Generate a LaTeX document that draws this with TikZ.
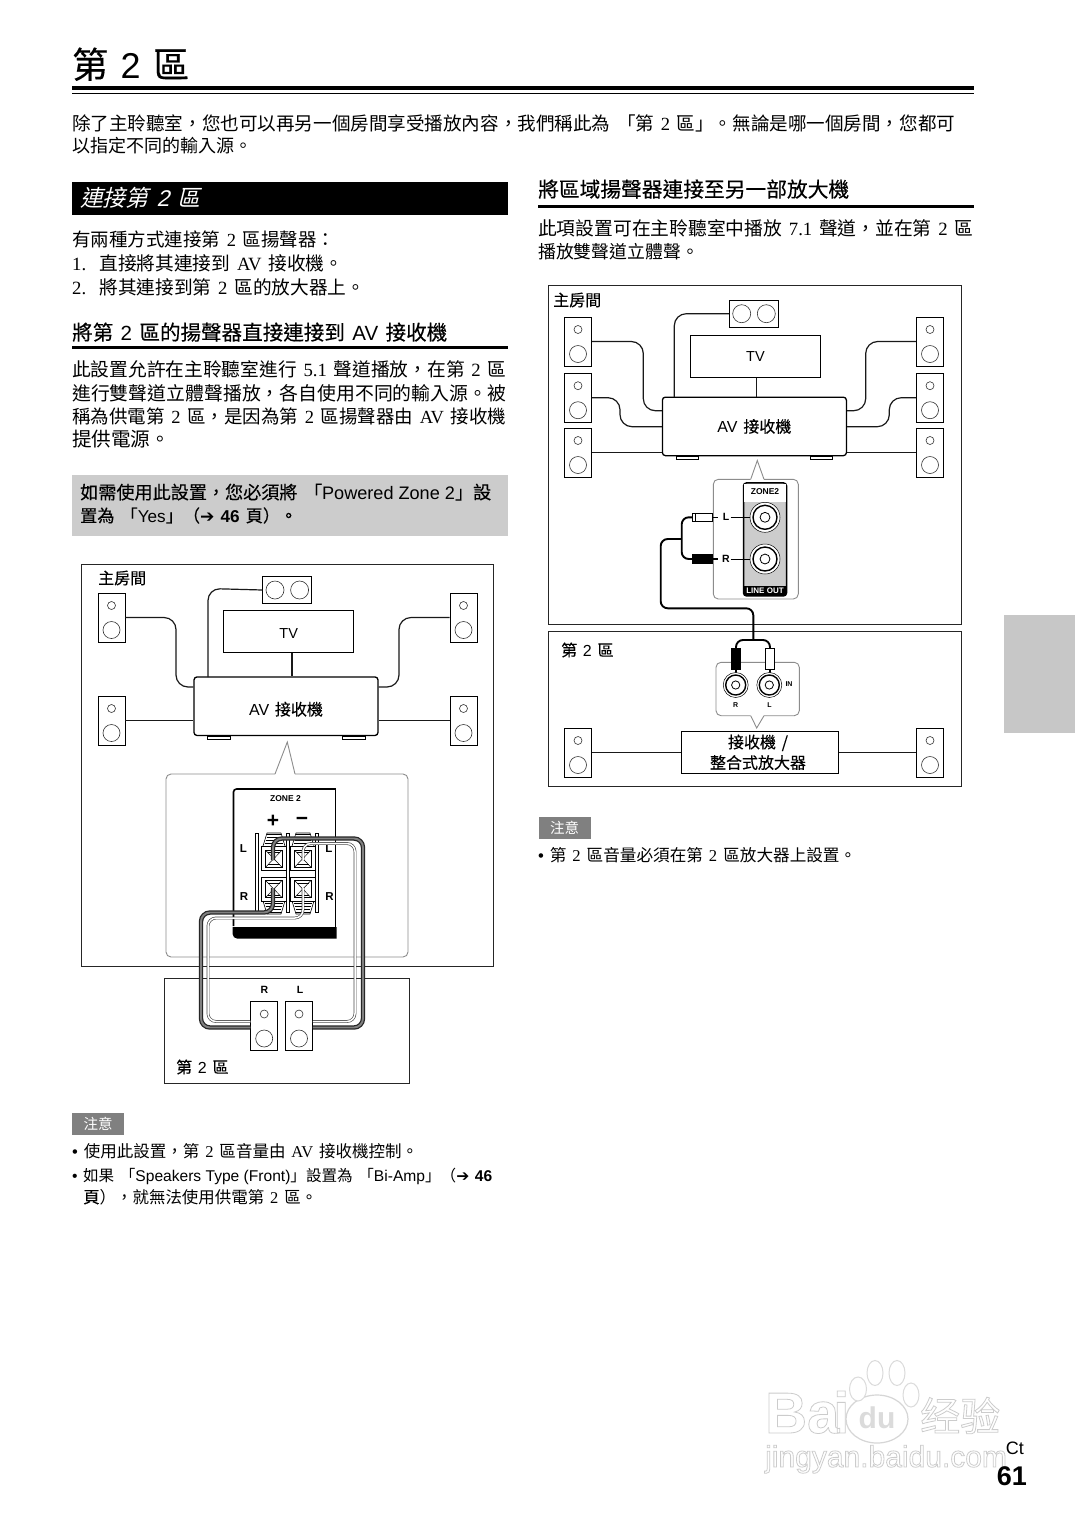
\documentclass[tikz,border=0pt]{standalone}
\usepackage{graphicx}
\usepackage{fontspec}
\setmainfont[WordSpace=1.6]{Noto Sans CJK TC}
\newfontfamily\medf[FakeBold=0.35,WordSpace=1.6]{Noto Sans CJK TC}
\newfontfamily\labf[FakeBold=0.2,WordSpace=1.6]{Noto Sans CJK TC}
\newfontfamily\itf[FakeSlant=0.25,WordSpace=1.6]{Noto Sans CJK TC}
\newfontfamily\scf{Noto Sans CJK SC}
\newfontfamily\serf{Liberation Serif}
\newfontfamily\sanf{Liberation Sans}
\newfontfamily\sanit[FakeSlant=0.25]{Liberation Sans}
\newfontfamily\arrf{DejaVu Sans}
\newcommand\lat[1]{{\serf #1}}
\newcommand\san[1]{{\sanf #1}}
\newcommand\arr{{\arrf ➔}}
\newcommand\blt{{\sanf •}\hspace{.35em}}
\newcommand\outl[1]{\special{pdf:code 1 Tr 0.80 G 0.8 w}#1\special{pdf:code 0 Tr 0 G 1 w}}
\newcounter{tn}
\newcommand\fitt[5][]{\stepcounter{tn}\node[anchor=base west,inner sep=0pt,#1] (t\arabic{tn}) at (#2,#3) {\resizebox{#4pt}{!}{#5}};}
\newcommand\spk[3]{\node[spkbox] (#1) at (#2,#3) {};
  \draw[thinl] (#1.center) ++(0,-12) circle (4);
  \draw[thinl] (#1.center) ++(0,12.5) circle (8.5);}
\newcommand\cspk[3]{\node[cspkbox] (#1) at (#2,#3) {};
  \draw[thinl] (#1.center) ++(-12.3,0) circle (9);
  \draw[thinl] (#1.center) ++(12.3,0) circle (9);}
\newcommand\wedgeT[3]{%
  \fill[white] (#1+2,#2) -- (#1+6,#2+#3*13) -- (#1+20,#2+#3*13) -- (#1+24,#2) -- cycle;
  \draw[line width=.6] (#1+2,#2) -- (#1+6,#2+#3*13) -- (#1+20,#2+#3*13) -- (#1+24,#2);
  \foreach \k in {2.5,5.5,8.5,11.5}{\draw[line width=1.5] (#1+3+.3*\k,#2+#3*\k) -- (#1+23-.3*\k,#2+#3*\k);}
}
\newcommand\termbox[2]{%
  \draw[line width=.8,fill=white] (#1,#2) rectangle (#1+25.5,#2+24);
  \draw[line width=.6,fill=white] (#1+4.5,#2+3.5) rectangle (#1+21,#2+20.5);
  \draw[line width=.5] (#1+4.5,#2+3.5) -- (#1+21,#2+20.5) (#1+21,#2+3.5) -- (#1+4.5,#2+20.5);
  \draw[line width=.5] (#1+7,#2+6) -- (#1+18.5,#2+6) (#1+7,#2+18) -- (#1+18.5,#2+18);
}
\newcommand\jack[3]{%
  \node[circle,draw=black,line width=.5,fill=white,minimum size=#3*2pt,inner sep=0pt] (#1) at (#2) {};
  \draw[line width=1.4] (#1.center) circle (#3*.8);
  \draw[line width=.8] (#1.center) circle (#3*.33);
}
\tikzset{
  frame/.style={draw=black!85,line width=.9pt},
  spkbox/.style={draw=black,line width=.8pt,minimum width=27pt,minimum height=49pt,inner sep=0pt,fill=white},
  cspkbox/.style={draw=black,line width=.8pt,minimum width=49pt,minimum height=27pt,inner sep=0pt,fill=white},
  tvbox/.style={draw=black,line width=.8pt,minimum width=130pt,minimum height=42pt,inner sep=0pt,fill=white,font=\sanf\fontsize{14.5}{15}\selectfont},
  avbox/.style={draw=black,line width=1.3pt,rounded corners=3pt,minimum width=184pt,minimum height=58.5pt,inner sep=0pt,fill=white,font=\labf\fontsize{16}{16}\selectfont},
  thinl/.style={draw=black!80,line width=.6pt},
  wire/.style={draw=black!90,line width=1.2pt,rounded corners=12pt},
  foot/.style={draw=black,line width=1pt,fill=white},
  callout/.style={draw=black!45,line width=.9pt,rounded corners=5pt},
  lab/.style={inner sep=0pt,font=\labf\fontsize{16}{16}\selectfont},
  blab/.style={inner sep=0pt,font=\sanf\bfseries\fontsize{10.5}{11}\selectfont},
  tinylab/.style={inner sep=0pt,font=\sanf\bfseries\fontsize{7}{8}\selectfont},
  darkwire/.style={draw=black!85,double=black!50,double distance=1.9pt,line width=1.25pt,rounded corners=9pt},
  lightwire/.style={draw=black!70,double=white,double distance=1.5pt,line width=.65pt,rounded corners=8pt},
  cable/.style={draw=black,line width=1.9pt,rounded corners=7pt},
  badge/.style={fill=black!50,text=white,minimum width=52pt,minimum height=22pt,inner sep=0pt,font=\fontsize{14.5}{15}\selectfont},
  wm/.style={inner sep=0pt,text=white},
}
\begin{document}
\begin{tikzpicture}[x=1pt,y=-1pt]
\useasboundingbox (0,0) rectangle (1075,1519);
\fill[white] (0,0) rectangle (1075,1519);

% title and rules
\fitt{72}{78}{117}{\medf\fontsize{36}{36}\selectfont 第\hspace{.35em}\san{2}\hspace{.35em}區}
\fill[black] (72,85.5) rectangle (974,89.5);
\fill[black] (72,92.5) rectangle (974,93.7);
\fitt{72}{130}{883}{除了主聆聽室，您也可以再另一個房間享受播放內容，我們稱此為 「第 \lat{2} 區」。無論是哪一個房間，您都可}
\fitt{72}{152.5}{180}{以指定不同的輸入源。}

% left column
\fill[black] (72,182) rectangle (508,215);
\fitt[text=white]{80}{206}{120}{\itf 連接第 {\sanit 2} 區}
\fitt{72}{246}{263}{有兩種方式連接第 \lat{2} 區揚聲器：}
\fitt{72}{270}{271}{\lat{1.}\hspace{.7em}直接將其連接到 \lat{AV} 接收機。}
\fitt{72}{294}{293}{\lat{2.}\hspace{.7em}將其連接到第 \lat{2} 區的放大器上。}
\fitt{72}{340}{375}{\medf 將第 \san{2} 區的揚聲器直接連接到 \san{AV} 接收機}
\fill[black] (72,346) rectangle (508,348.5);
\fitt{72}{376}{434}{此設置允許在主聆聽室進行 \lat{5.1} 聲道播放，在第 \lat{2} 區}
\fitt{72}{400}{434}{進行雙聲道立體聲播放，各自使用不同的輸入源。被}
\fitt{72}{423}{434}{稱為供電第 \lat{2} 區，是因為第 \lat{2} 區揚聲器由 \lat{AV} 接收機}
\fitt{72}{446}{98}{提供電源。}
\fill[black!20] (72,475) rectangle (508,536);
\fitt{80}{499}{411}{\labf 如需使用此設置，您必須將 「\san{Powered Zone 2}」設}
\fitt{80}{522}{217}{\labf 置為 「\san{Yes}」（\arr{} \san{\bfseries 46} 頁）。}

% left diagram
\node[frame,minimum width=412pt,minimum height=402pt,inner sep=0pt] (mainA) at (287.7,765) {};
\node[lab,anchor=west] (mainAl) at (98,578) {主房間};
\node[frame,minimum width=245pt,minimum height=105pt,inner sep=0pt] (zoneA) at (286.5,1030.5) {};
\node[lab,anchor=west] (zoneAl) at (176,1067) {第 \san{2} 區};
\spk{a1}{111.5}{617.5}
\spk{a2}{111.5}{720.5}
\spk{a3}{463.5}{617.5}
\spk{a4}{463.5}{720.5}
\cspk{ac}{287.3}{590}
\node[tvbox] (atv) at (288.7,631.5) {\raisebox{-2pt}[\height][\depth]{TV}};
\node[avbox] (aav) at (286,706.2) {\raisebox{-3pt}[\height][\depth]{\san{AV} 接收機}};
\draw[foot] (207,736.3) rectangle (230,739);
\draw[foot] (342,736.3) rectangle (365,739);
\draw[wire] (a1.east) -- (176,617.5) -- (176,687) -- (aav.west |- 0,687);
\draw[wire] (a2.east) -- (aav.west |- a2.east);
\draw[wire] (a3.west) -- (399,617.5) -- (399,687) -- (aav.east |- 0,687);
\draw[wire] (a4.west) -- (aav.east |- a4.west);
\draw[wire] (ac.west) -- (208,588.5) -- (208,677);
\draw[wire] (atv.south -| 292,0) -- (aav.north -| 292,0);
% callout
\draw[callout] (275,774) -- (166,774) -- (166,957) -- (408,957) -- (408,774) -- (295,774);
\draw[draw=black!45,line width=.9pt] (275,774) -- (287.3,742) -- (295,774);
% zone 2 panel
\draw[line width=1.6pt,rounded corners=3pt] (233.5,926) -- (233.5,789) -- (335,789);
\draw[line width=.9pt] (335.8,788) -- (335.8,927);
\fill[black] (232.7,927) -- (336.5,927) -- (336.5,938.5) -- (237,938.5) arc (90:180:4.3) -- cycle;
\node[inner sep=0pt,font=\sanf\bfseries\fontsize{8.5}{9}\selectfont] (z2) at (285.5,799) {ZONE 2};
\node[inner sep=0pt,font=\sanf\bfseries\fontsize{21}{21}\selectfont] (zp) at (273,821) {+};
\node[inner sep=0pt,font=\sanf\bfseries\fontsize{21}{21}\selectfont] (zm) at (302,821) {−};
\node[inner sep=0pt,font=\sanf\bfseries\fontsize{11.5}{12}\selectfont] (zl1) at (243.5,849) {L};
\node[inner sep=0pt,font=\sanf\bfseries\fontsize{11.5}{12}\selectfont] (zr1) at (244,897) {R};
\node[inner sep=0pt,font=\sanf\bfseries\fontsize{11.5}{12}\selectfont] (zl2) at (329,849) {L};
\node[inner sep=0pt,font=\sanf\bfseries\fontsize{11.5}{12}\selectfont] (zr2) at (329.5,897) {R};
\foreach \bx in {257,287.7,316.7}{\draw[line width=.7,fill=white] (\bx-1.3,833) rectangle (\bx+1.3,912);}
\wedgeT{261}{846}{-1}
\wedgeT{290}{846}{-1}
\wedgeT{261}{901}{1}
\wedgeT{290}{901}{1}
\termbox{261}{846.7}
\termbox{290}{846.7}
\termbox{261}{877}
\termbox{290}{877}
\spk{zr}{264.2}{1026}
\spk{zll}{299}{1026}
\node[blab] (zrl) at (264.5,990) {R};
\node[blab] (zll2) at (300,990) {L};
\coordinate (tlp) at (273,860);
\coordinate (tlm) at (303,860);
\coordinate (trp) at (273,888);
\coordinate (trm) at (303,888);
\draw[lightwire] (tlm) -- (303,843.5) -- (355,843.5) -- (355,1021.5) -- (zll.east |- 0,1021.5);
\draw[darkwire] (tlp) -- (273,838.5) -- (363,838.5) -- (363,1027.5) -- (zll.east |- 0,1027.5);
\draw[lightwire] (trm) -- (303,918) -- (208,918) -- (208,1021.5) -- (zr.west |- 0,1021.5);
\draw[darkwire] (trp) -- (273,912.5) -- (201,912.5) -- (201,1027.5) -- (zr.west |- 0,1027.5);

% left notes
\node[badge] (nA) at (98,1124) {注意};
\fitt{72}{1157}{346}{\blt 使用此設置，第 \lat{2} 區音量由 \lat{AV} 接收機控制。}
\fitt{72}{1181}{420}{\blt 如果 「\san{Speakers Type (Front)}」設置為 「\san{Bi-Amp}」（\arr{} \san{\bfseries 46}}
\fitt{83}{1203}{234}{\medf 頁\normalfont），就無法使用供電第 \lat{2} 區。}

% right column
\fitt{538}{197}{311}{\medf 將區域揚聲器連接至另一部放大機}
\fill[black] (538,205) rectangle (974,207.5);
\fitt{538}{235}{435}{此項設置可在主聆聽室中播放 \lat{7.1} 聲道，並在第 \lat{2} 區}
\fitt{538}{258.5}{161}{播放雙聲道立體聲。}

% right diagram upper
\node[frame,minimum width=413pt,minimum height=339pt,inner sep=0pt] (mainB) at (754.5,455) {};
\node[lab,anchor=west] (mainBl) at (553,300) {主房間};
\spk{b1}{578}{341.5}
\spk{b2}{578}{397.7}
\spk{b3}{578}{452.5}
\spk{b4}{930}{341.5}
\spk{b5}{930}{397.7}
\spk{b6}{930}{452.5}
\cspk{bc}{754}{313.7}
\node[tvbox] (btv) at (755.4,356.4) {TV};
\node[avbox] (bav) at (754.4,426.4) {\san{AV} 接收機};
\draw[foot] (676.5,456.2) rectangle (698,459);
\draw[foot] (810.5,456.2) rectangle (832.5,459);
\draw[wire] (b1.east) -- (643.3,341.5) -- (643.3,410.7) -- (bav.west |- 0,410.7);
\draw[wire] (b2.east) -- (620,397.7) -- (620,426.7) -- (bav.west |- 0,426.7);
\draw[wire] (b3.east) -- (bav.west |- b3.east);
\draw[wire] (b4.west) -- (865.7,341.5) -- (865.7,410.7) -- (bav.east |- 0,410.7);
\draw[wire] (b5.west) -- (889.3,397.7) -- (889.3,426.7) -- (bav.east |- 0,426.7);
\draw[wire] (b6.west) -- (bav.east |- b6.west);
\draw[wire] (bc.west) -- (674.3,313.7) -- (674.3,397);
\draw[wire] (btv.south -| 756.3,0) -- (bav.north -| 756.3,0);
% callout upper
\draw[callout] (750.7,479.3) -- (713.3,479.3) -- (713.3,599) -- (798.3,599) -- (798.3,479.3) -- (764,479.3);
\draw[draw=black!45,line width=.9pt] (750.7,479.3) -- (757.3,460.5) -- (764,479.3);
\node[draw=black,line width=1.5pt,rounded corners=3pt,fill=black!20,minimum width=43pt,minimum height=113pt,inner sep=0pt] (pnl) at (765,539.4) {};
\fill[white] (744.2,483.5) rectangle (785.8,501.7);
\fill[black] (744,586) rectangle (786,595.5);
\node[inner sep=0pt,font=\sanf\bfseries\fontsize{8.5}{9}\selectfont] (pz) at (765,492) {ZONE2};
\node[inner sep=0pt,text=white,font=\sanf\bfseries\fontsize{8}{9}\selectfont] (pl) at (765,591) {LINE OUT};
\jack{j1}{765,517.3}{15}
\jack{j2}{765,559}{15}
\node[blab] (ll) at (726,517.3) {L};
\node[blab] (lr) at (726,559) {R};
\draw[line width=.8] (730.7,517.3) -- (j1.west |- 0,517.3);
\draw[line width=.8] (730.7,559) -- (j2.west |- 0,559);
\node[draw=black,line width=.9,fill=white,minimum width=19.5pt,minimum height=8.5pt,inner sep=0pt] (pw) at (702.5,517.3) {};
\node[draw=black,line width=.9,fill=black,minimum width=19.5pt,minimum height=8.5pt,inner sep=0pt] (pb) at (702.5,559) {};
\draw[line width=.7] (pw.west)++(3,-4) -- ++(0,8);
\draw[line width=1.6] (pw.east) -- ++(5.5,0);
\draw[line width=1.6] (pb.east) -- ++(5.5,0);

% right diagram lower
\node[frame,minimum width=413pt,minimum height=155pt,inner sep=0pt] (zoneB) at (754.5,708.5) {};
\node[lab,anchor=west] (zoneBl) at (561,650) {第 \san{2} 區};
\draw[callout] (750.7,715.7) -- (716,715.7) -- (716,662.3) -- (799.3,662.3) -- (799.3,715.7) -- (764,715.7);
\draw[draw=black!45,line width=.9pt] (750.7,715.7) -- (756.7,728) -- (764,715.7);
\node[draw=black,line width=.9,fill=black,minimum width=8.5pt,minimum height=21pt,inner sep=0pt] (qb) at (736,659) {};
\node[draw=black,line width=.9,fill=white,minimum width=8.5pt,minimum height=21pt,inner sep=0pt] (qw) at (770,659) {};
\draw[line width=1.6] (qb.south) -- ++(0,6);
\draw[line width=1.6] (qw.south) -- ++(0,6);
\jack{k1}{735.7,685}{12.5}
\jack{k2}{769.3,685}{12.5}
\node[tinylab] (kin) at (789,684) {IN};
\node[tinylab] (kr) at (735.7,705) {R};
\node[tinylab] (kl) at (769.5,705) {L};
\node[draw=black,line width=.9pt,fill=white,minimum width=157pt,minimum height=42.5pt,inner sep=0pt,align=center,font=\labf\fontsize{16}{20.5}\selectfont] (amp) at (760,752.3) {\hspace*{-4pt}接收機 /\\\hspace*{-4pt}整合式放大器};
\spk{c1}{578}{752.5}
\spk{c2}{930}{752.5}
\draw[wire] (c1.east) -- (amp.west |- c1.east);
\draw[wire] (c2.west) -- (amp.east |- c2.west);
% RCA cable
\coordinate (cbr) at (681.7,539);
\coordinate (cdn) at (753.3,640);
\draw[cable] (pw.west) -- (681.7,517.3) -- (681.7,559) -- (pb.west);
\draw[cable] (cbr) -- (660.7,539) -- (660.7,608.3) -- (753.3,608.3) -- (cdn);
\draw[cable] (qb.north) -- (736,640) -- (770,640) -- (qw.north);

% right note
\node[badge] (nB) at (564.5,828) {注意};
\fitt{538}{861}{318}{\blt 第 \lat{2} 區音量必須在第 \lat{2} 區放大器上設置。}

% gray tab
\fill[black!22] (1004,615) rectangle (1075,733);

% watermark
\node[wm,anchor=base west,font=\sanf\bfseries\fontsize{58}{58}\selectfont] (wb) at (765,1433) {\outl{Ba}};
\node[wm,anchor=base west,font=\sanf\bfseries\fontsize{58}{58}\selectfont] (wi) at (833,1433) {\outl{i}};
\draw[black!16,line width=1.2pt,fill=white] (877,1419) ellipse (31 and 24);
\node[inner sep=0pt,text=black!14,font=\sanf\bfseries\fontsize{30}{30}\selectfont] (wd) at (877,1418) {du};
\foreach \ex/\ey/\erx/\ery in {858/1389/8.5/12, 875/1373/8/12.5, 897/1373/8/12.5, 911/1395/8/12}{\draw[black!14,line width=1pt,fill=white,x=1pt,y=1pt] (\ex,-\ey) ellipse (\erx pt and \ery pt);}
\node[wm,anchor=base west,font=\scf\fontsize{40}{40}\selectfont] (wj) at (920,1431) {\outl{经验}};
\node[wm,anchor=base west,font=\sanf\fontsize{30}{30}\selectfont] (wu) at (765,1467) {\outl{jingyan.baidu.com}};

% page number
\node[inner sep=0pt,anchor=base east,font=\sanf\fontsize{18}{18}\selectfont] (ct) at (1024,1454) {Ct};
\node[inner sep=0pt,anchor=base east,font=\sanf\bfseries\fontsize{27}{27}\selectfont] (pg) at (1027,1485) {61};
\end{tikzpicture}
\end{document}
